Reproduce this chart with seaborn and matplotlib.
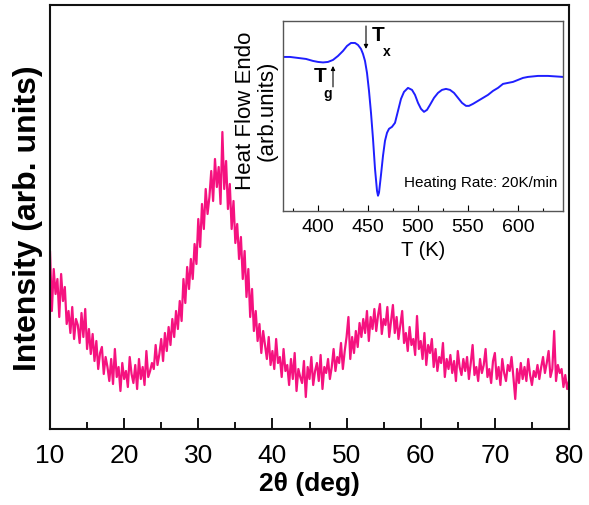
import numpy as np
import matplotlib
matplotlib.use("Agg")
import matplotlib.pyplot as plt
from matplotlib.ticker import MultipleLocator
import seaborn as sns

# ---------------- data ----------------
# XRD pattern, 2theta from 10 to 80 deg in 0.25 deg steps
xrd_intensity = [
    178, 118, 160, 135, 150, 112, 155, 128,   # 10-12
    142, 105, 118, 96, 122, 90, 110, 104,     # 12-14
    86, 116, 92, 120, 80, 100, 75, 95,        # 14-16
    68, 88, 60, 76, 82, 55, 72, 62,           # 16-18
    48, 70, 45, 80, 52, 62, 38, 66,           # 18-20
    50, 58, 42, 72, 55, 46, 64, 40,           # 20-22
    70, 50, 62, 44, 78, 52, 58, 66,           # 22-24
    60, 84, 64, 75, 90, 68, 96, 78,           # 24-26
    102, 84, 110, 92, 118, 100, 128, 108,     # 26-28
    150, 126, 162, 140, 170, 150, 185, 165,   # 28-30
    210, 182, 225, 200, 240, 215, 232, 258,   # 30-32
    228, 270, 242, 262, 225, 297, 240, 268,   # 32-34
    220, 245, 200, 228, 186, 205, 170, 192,   # 34-36
    150, 178, 132, 160, 112, 140, 98, 118,    # 36-38
    88, 105, 76, 98, 84, 70, 92, 64,          # 38-40
    78, 60, 90, 66, 72, 52, 80, 58,           # 40-42
    64, 44, 70, 50, 76, 38, 60, 52,           # 42-44
    46, 68, 32, 62, 50, 72, 44, 58,           # 44-46
    66, 48, 74, 40, 62, 56, 70, 50,           # 46-48
    62, 80, 58, 72, 66, 86, 60, 78,           # 48-50
    92, 112, 70, 92, 76, 98, 82, 106,         # 50-52
    92, 110, 96, 118, 88, 112, 100, 120,      # 52-54
    98, 114, 125, 95, 110, 104, 122, 92,      # 54-56
    108, 124, 96, 112, 90, 104, 118, 86,      # 56-58
    96, 78, 102, 84, 90, 74, 113, 80,         # 58-60
    88, 70, 96, 64, 84, 76, 90, 62,           # 60-62
    80, 58, 72, 66, 86, 52, 70, 60,           # 62-64
    74, 56, 68, 48, 78, 62, 54, 70,           # 64-66
    58, 72, 50, 66, 84, 54, 62, 48,           # 66-68
    70, 56, 64, 80, 52, 60, 46, 68,           # 68-70
    76, 50, 62, 44, 70, 56, 48, 64,           # 70-72
    58, 72, 52, 30, 60, 46, 66, 50,           # 72-74
    62, 48, 70, 54, 44, 58, 52, 64,           # 74-76
    50, 62, 72, 56, 66, 78, 52, 60,           # 76-78
    98, 48, 64, 56, 60, 42, 54, 40,           # 78-80
    48,
]
two_theta = np.linspace(10, 80, len(xrd_intensity))

# DSC trace (inset)
dsc_temp = [365, 372, 380, 388, 395, 400, 405, 410, 415, 420, 425, 429, 433,
            437, 440, 443, 445, 447, 449, 451, 453, 455, 457, 459, 460, 461,
            463, 465, 467, 469, 471, 474, 477, 480, 483, 486, 490, 494, 497,
            500, 503, 506, 509, 512, 516, 520, 524, 528, 532, 536, 540, 544,
            548, 551, 555, 560, 565, 570, 575, 580, 585, 590, 595, 600, 605,
            610, 620, 630, 645]
dsc_heat = [154, 154, 153, 152, 150, 149, 148.5, 149, 151, 155, 160, 165, 168,
            168, 166, 162, 157, 150, 138, 120, 98, 72, 42, 20, 15, 18,
            36, 55, 70, 78, 82, 84, 88, 100, 112, 119, 123, 121, 116,
            108, 102, 99, 101, 106, 113, 118, 121, 122, 121, 118, 113, 108,
            105, 105, 107, 110, 113, 116, 120, 123, 127, 128, 129, 131, 133,
            134, 135, 135, 134]

pink = "#f5127f"
blue = "#1f1fff"

# ---------------- figure ----------------
sns.set_style("ticks")
plt.rcParams["font.family"] = ["Liberation Sans", "DejaVu Sans"]
plt.rcParams["text.color"] = "black"
plt.rcParams["axes.labelcolor"] = "black"
plt.rcParams["xtick.color"] = "black"

fig = plt.figure(figsize=(5.89, 5.06), dpi=100)
ax = fig.add_axes([50 / 589, 76 / 506, 519 / 589, 424 / 506])

sns.lineplot(x=two_theta, y=xrd_intensity, ax=ax, color=pink, lw=1.6)
ax.set_xlim(10, 80)
ax.set_ylim(0, 424)
ax.set_yticks([])
ax.xaxis.set_major_locator(MultipleLocator(10))
ax.xaxis.set_minor_locator(MultipleLocator(5))
ax.tick_params(axis="x", which="major", direction="in", length=8, width=1.3,
               labelsize=19, pad=10, colors="black")
ax.tick_params(axis="x", which="minor", direction="in", length=5, width=1.3,
               colors="black")
for s in ax.spines.values():
    s.set_linewidth(1.5)
    s.set_color("#111111")
ax.set_xlabel("2θ (deg)", fontsize=19, fontweight="bold", labelpad=3)
ax.set_ylabel("Intensity (arb. units)", fontsize=23, fontweight="bold", labelpad=5)

# ---------------- inset ----------------
ins = fig.add_axes([283 / 589, (506 - 211.7) / 506, 280 / 589, 189.7 / 506])
sns.lineplot(x=dsc_temp, y=dsc_heat, ax=ins, color=blue, lw=1.4)
ins.set_xlim(365, 645)
ins.set_ylim(0, 190)
ins.set_yticks([])
ins.xaxis.set_major_locator(MultipleLocator(50))
ins.xaxis.set_minor_locator(MultipleLocator(25))
ins.tick_params(axis="x", which="major", direction="in", length=4, width=0.8,
                labelsize=14, pad=5, colors="black")
ins.tick_params(axis="x", which="minor", direction="in", length=2.5, width=0.8,
                colors="black")
for s in ins.spines.values():
    s.set_linewidth(1.0)
    s.set_color("#555555")
ins.set_xlabel("T (K)", fontsize=14.5, labelpad=4)
ins.set_ylabel("Heat Flow Endo\n(arb.units)", fontsize=16, labelpad=4,
               linespacing=1.05)
ins.yaxis.set_label_coords(-0.02, 0.53)

arrow = dict(arrowstyle="-|>", lw=0.8, color="k", mutation_scale=6,
             shrinkA=0, shrinkB=0)
ins.annotate("", xy=(415, 145), xytext=(415, 124), arrowprops=arrow)
ins.text(402, 135, "T", fontsize=15, fontweight="bold", ha="center", va="center")
ins.text(410, 118, "g", fontsize=10, fontweight="bold", ha="center", va="center")
ins.annotate("", xy=(448, 162), xytext=(448, 185), arrowprops=arrow)
ins.text(460, 176, "T", fontsize=15, fontweight="bold", ha="center", va="center")
ins.text(469, 160, "x", fontsize=10, fontweight="bold", ha="center", va="center")
ins.text(639, 29, "Heating Rate: 20K/min", fontsize=11, ha="right", va="center")

fig.savefig("out.png", dpi=100)
